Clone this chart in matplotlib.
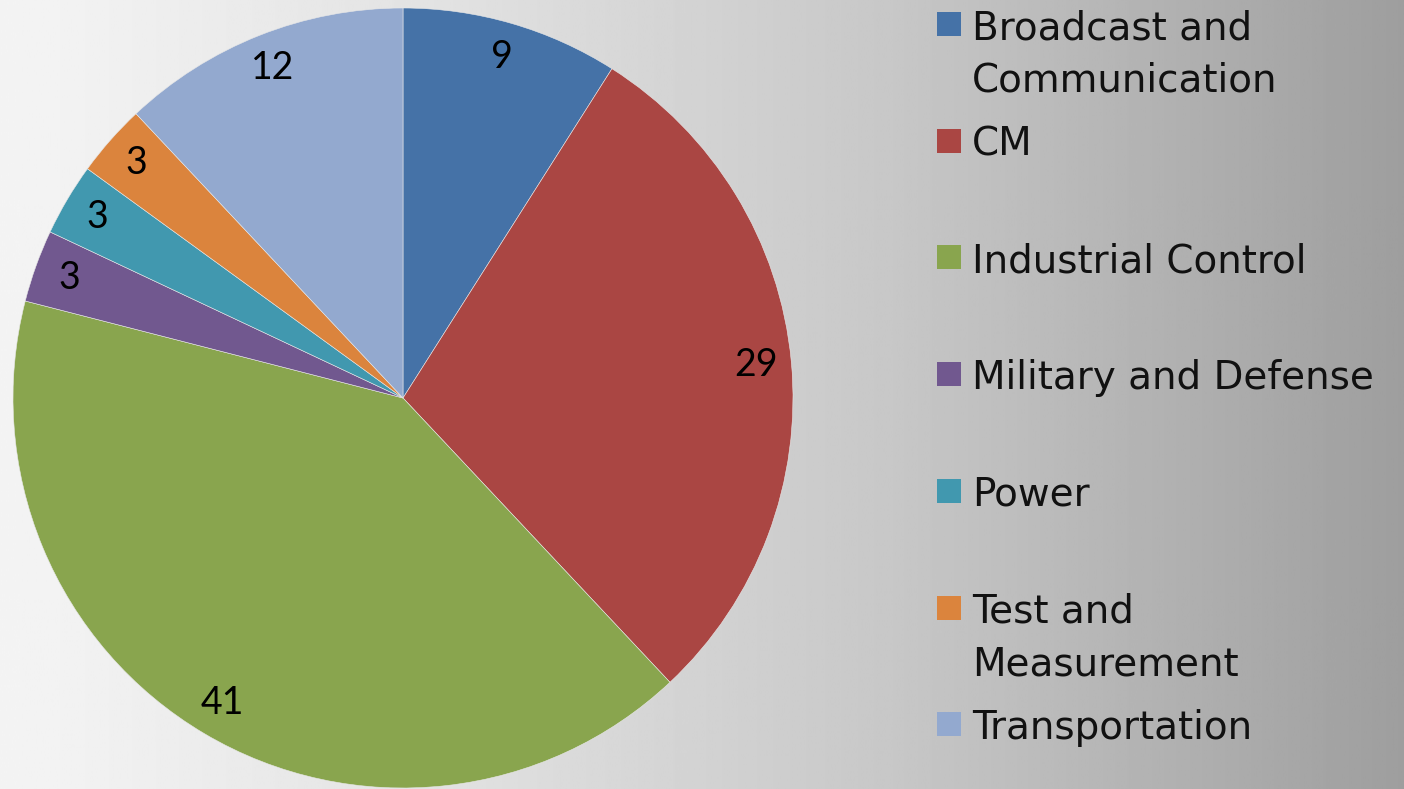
import numpy as np
import matplotlib.pyplot as plt
from matplotlib.patches import Rectangle

# data
categories = ['Broadcast and\nCommunication', 'CM', 'Industrial Control',
              'Military and Defense', 'Power', 'Test and\nMeasurement', 'Transportation']
values = [9, 29, 41, 3, 3, 3, 12]
colors = ['#4572A7', '#AA4643', '#89A54E', '#71588F', '#4198AF', '#DB843D', '#93A9CF']

W, H = 1404, 789
fig = plt.figure(figsize=(W / 100, H / 100), dpi=100)
plt.rcParams['font.family'] = ['Lato', 'DejaVu Sans']

# grey horizontal gradient background
bg = fig.add_axes([0, 0, 1, 1], zorder=0)
xs = np.linspace(0, 1, 600)
shade = np.interp(xs, [0, 0.04, 0.3, 0.64, 1.0], [0.955, 0.95, 0.89, 0.78, 0.62])
bg.imshow(np.tile(shade, (2, 1)), cmap='gray', vmin=0, vmax=1, aspect='auto',
          extent=[0, 1, 0, 1])
bg.axis('off')

# pie axes: centre (403, 398) px, radius 390 px
cx, cy, r = 403, 398, 390
ax = fig.add_axes([(cx - r) / W, (H - cy - r) / H, 2 * r / W, 2 * r / H], zorder=1)
ax.pie(values, colors=colors, startangle=90, counterclock=False, radius=1,
       labels=[str(v) for v in values], labeldistance=0.91,
       textprops=dict(fontsize=27, color='black', ha='center', va='center'),
       wedgeprops=dict(edgecolor='#e8e8e8', linewidth=0.4))
ax.set_xlim(-1, 1)
ax.set_ylim(-1, 1)
ax.set_aspect('equal')
ax.axis('off')

# legend drawn by hand
sq = 24
x0 = 937
y_first = 24
step = 116.7
line_gap = 53
for i, (lab, col) in enumerate(zip(categories, colors)):
    yc = y_first + i * step
    fig.patches.append(Rectangle((x0 / W, 1 - (yc + sq / 2) / H), sq / W, sq / H,
                                 transform=fig.transFigure, facecolor=col,
                                 edgecolor='none', zorder=3))
    for j, line in enumerate(lab.split('\n')):
        base = yc + 15 + j * line_gap
        fig.text(972 / W, 1 - base / H, line, fontsize=28, color='#111111',
                 family='DejaVu Sans', ha='left', va='baseline', zorder=3)

fig.savefig('out.png', dpi=100)
